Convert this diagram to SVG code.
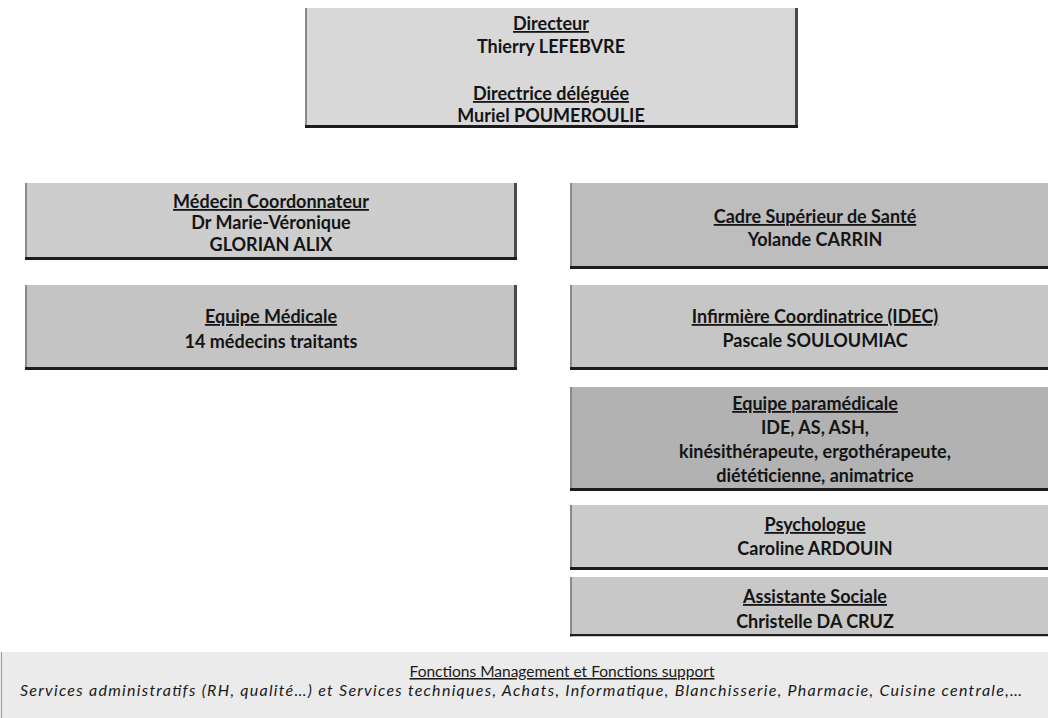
<svg xmlns="http://www.w3.org/2000/svg" width="1048" height="718" viewBox="0 0 1048 718">
<style>
  .t { font-family: Lato, "Liberation Sans", sans-serif; font-size: 18px; font-weight: bold; fill: #141414; text-anchor: middle; }
  .u { text-decoration: underline; }
  .ft { font-family: Lato, "Liberation Sans", sans-serif; font-size: 15.5px; fill: #1a1a1a; text-anchor: middle; text-decoration: underline; }
  .it { font-family: Lato, "Liberation Sans", sans-serif; font-size: 16px; font-style: italic; fill: #1a1a1a; }
  .sh { fill: #1c1c1c; }
  .sr { fill: #4a4a4a; }
  .le { fill: #8a8a8a; }
</style>
<rect width="1048" height="718" fill="#ffffff"/>

<g id="directeur">
  <rect x="305" y="8" width="493" height="119" fill="#d8d8d8"/>
  <rect class="le" x="305" y="8" width="2" height="119"/>
  <rect class="sr" x="795" y="8" width="3" height="120"/>
  <rect class="sh" x="305" y="125" width="493" height="3"/>
  <text class="t u" x="551" y="30">Directeur</text>
  <text class="t" x="551" y="53">Thierry LEFEBVRE</text>
  <text class="t u" x="551" y="100">Directrice déléguée</text>
  <text class="t" x="551" y="122">Muriel POUMEROULIE</text>
</g>

<g id="medecin-coordonnateur">
  <rect x="25" y="183" width="492" height="77" fill="#cdcdcd"/>
  <rect class="le" x="25" y="183" width="2" height="77"/>
  <rect class="sr" x="514" y="183" width="3" height="77"/>
  <rect class="sh" x="25" y="257" width="492" height="3"/>
  <text class="t u" x="271" y="208">Médecin Coordonnateur</text>
  <text class="t" x="271" y="229">Dr Marie-Véronique</text>
  <text class="t" x="271" y="251">GLORIAN ALIX</text>
</g>

<g id="equipe-medicale">
  <rect x="25" y="285" width="492" height="85" fill="#c4c4c4"/>
  <rect class="le" x="25" y="285" width="2" height="85"/>
  <rect class="sr" x="514" y="285" width="3" height="85"/>
  <rect class="sh" x="25" y="367" width="492" height="3"/>
  <text class="t u" x="271" y="323">Equipe Médicale</text>
  <text class="t" x="271" y="348">14 médecins traitants</text>
</g>

<g id="cadre-superieur">
  <rect x="570" y="183" width="478" height="86" fill="#bdbdbd"/>
  <rect class="le" x="570" y="183" width="2" height="86"/>
  <rect class="sh" x="570" y="266" width="478" height="3"/>
  <text class="t u" x="815" y="223">Cadre Supérieur de Santé</text>
  <text class="t" x="815" y="246">Yolande CARRIN</text>
</g>

<g id="infirmiere-coordinatrice">
  <rect x="570" y="285" width="478" height="85" fill="#c6c6c6"/>
  <rect class="le" x="570" y="285" width="2" height="85"/>
  <rect class="sh" x="570" y="367" width="478" height="3"/>
  <text class="t u" x="815" y="323">Infirmière Coordinatrice (IDEC)</text>
  <text class="t" x="815" y="347">Pascale SOULOUMIAC</text>
</g>

<g id="equipe-paramedicale">
  <rect x="570" y="387" width="478" height="104" fill="#b2b2b2"/>
  <rect class="le" x="570" y="387" width="2" height="104"/>
  <rect class="sh" x="570" y="488" width="478" height="3"/>
  <text class="t u" x="815" y="410">Equipe paramédicale</text>
  <text class="t" x="815" y="434">IDE, AS, ASH,</text>
  <text class="t" x="815" y="458">kinésithérapeute, ergothérapeute,</text>
  <text class="t" x="815" y="482">diététicienne, animatrice</text>
</g>

<g id="psychologue">
  <rect x="570" y="505" width="478" height="65" fill="#cbcbcb"/>
  <rect class="le" x="570" y="505" width="2" height="65"/>
  <rect class="sh" x="570" y="567" width="478" height="3"/>
  <text class="t u" x="815" y="531">Psychologue</text>
  <text class="t" x="815" y="555">Caroline ARDOUIN</text>
</g>

<g id="assistante-sociale">
  <rect x="570" y="577" width="478" height="60" fill="#c8c8c8"/>
  <rect class="le" x="570" y="577" width="2" height="60"/>
  <rect class="sh" x="570" y="634" width="478" height="2"/>
  <text class="t u" x="815" y="603">Assistante Sociale</text>
  <text class="t" x="815" y="628">Christelle DA CRUZ</text>
</g>

<g id="fonctions-support">
  <rect x="0" y="652" width="1048" height="66" fill="#ebebeb"/>
  <rect x="1" y="652" width="1" height="66" fill="#9a9a9a"/>
  <text class="ft" x="562" y="677">Fonctions Management et Fonctions support</text>
  <text class="it" x="20" y="696" textLength="1002" lengthAdjust="spacing">Services administratifs (RH, qualité…) et Services techniques, Achats, Informatique, Blanchisserie, Pharmacie, Cuisine centrale,…</text>
</g>

<g id="connectors"></g>
</svg>
